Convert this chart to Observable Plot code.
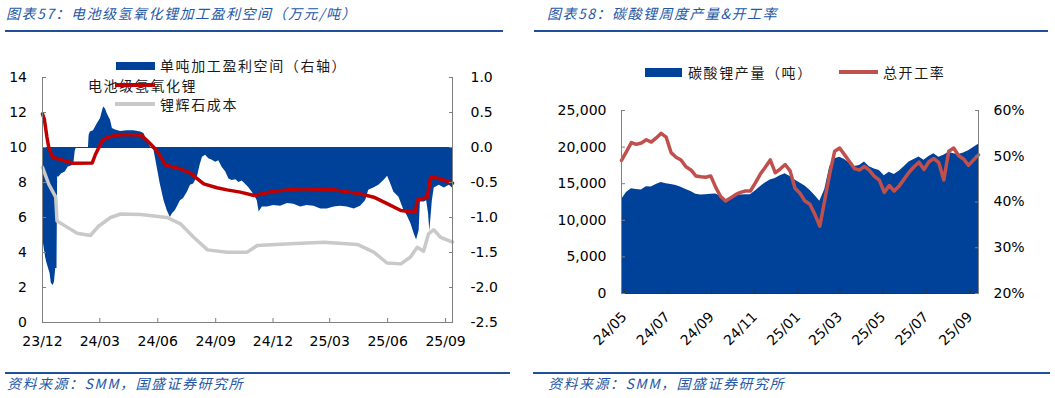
<!DOCTYPE html>
<html><head><meta charset="utf-8">
<script src="https://cdn.jsdelivr.net/npm/d3@7"></script>
<script src="https://cdn.jsdelivr.net/npm/@observablehq/plot@0.6"></script>
<style>
html,body{margin:0;padding:0;background:#fff;}
#root{position:relative;width:1055px;height:398px;overflow:hidden;font-family:"Noto Sans CJK SC","Noto Sans",sans-serif;}
.title,.src{position:absolute;font-style:italic;color:#2457A6;white-space:nowrap;line-height:16px;font-size:14px;letter-spacing:1.5px;}
.rule{position:absolute;background:#1F4E9A;}
.chart{position:absolute;top:40px;}
.chart svg{display:block;}
.leg{position:absolute;font-size:14px;line-height:16px;color:#1a1a1a;letter-spacing:1.6px;white-space:nowrap;}
.sw{position:absolute;}
</style></head><body><div id="root">
<div class="title" style="left:6px;top:5px">图表57：电池级氢氧化锂加工盈利空间（万元/吨）</div>
<div class="rule" style="left:5px;top:30px;width:498px;height:2px"></div>
<div class="title" style="left:547px;top:5px">图表58：碳酸锂周度产量&amp;开工率</div>
<div class="rule" style="left:534px;top:30px;width:514px;height:2px"></div>
<div id="c1" class="chart" style="left:0px"></div>
<div id="c2" class="chart" style="left:530px"></div>
<div class="sw" style="left:116px;top:62px;width:39px;height:8px;background:#00419A"></div>
<div class="leg" style="left:160px;top:57px">单吨加工盈利空间（右轴）</div>
<div class="leg" style="left:88px;top:77px">电池级氢氧化锂</div>
<div class="sw" style="left:115px;top:83px;width:40px;height:4px;background:#C00000"></div>
<div class="sw" style="left:115px;top:102px;width:40px;height:4px;background:#C9C9C9"></div>
<div class="leg" style="left:160px;top:96px">锂辉石成本</div>
<div class="sw" style="left:645px;top:68px;width:37px;height:9px;background:#00419A"></div>
<div class="leg" style="left:688px;top:64px">碳酸锂产量（吨）</div>
<div class="sw" style="left:839px;top:70px;width:39px;height:4px;background:#C0504D"></div>
<div class="leg" style="left:883px;top:64px">总开工率</div>
<div class="rule" style="left:5px;top:372px;width:505px;height:1.5px"></div>
<div class="src" style="left:7px;top:375px">资料来源：SMM，国盛证券研究所</div>
<div class="rule" style="left:533px;top:372px;width:517px;height:1.5px"></div>
<div class="src" style="left:548px;top:375px">资料来源：SMM，国盛证券研究所</div>
</div>
<script>
// ===== 图表57 data =====
const c1TickDates = ["2023-12-01","2024-03-01","2024-06-01","2024-09-01","2024-12-01","2025-03-01","2025-06-01","2025-09-01"];
const leftAxisTicks = [0,2,4,6,8,10,12,14];
const marginAxisTicks = [-2.5,-2.0,-1.5,-1.0,-0.5,0.0,0.5,1.0];

const hydroxideDates = ["2023-12-01","2023-12-04","2023-12-08","2023-12-11","2023-12-17","2023-12-30","2024-01-19","2024-02-18","2024-02-23","2024-03-05","2024-03-13","2024-04-03","2024-05-05","2024-05-15","2024-05-26","2024-06-03","2024-06-13","2024-07-07","2024-07-23","2024-08-03","2024-08-13","2024-09-03","2024-09-19","2024-10-10","2024-11-01","2024-12-02","2025-01-14","2025-03-07","2025-04-19","2025-05-10","2025-06-01","2025-06-22","2025-07-15","2025-07-18","2025-08-03","2025-08-08","2025-08-16","2025-08-24","2025-09-12"];
const hydroxideValues = [11.92,11.6,10.6,10.0,9.45,9.3,9.1,9.12,9.6,10.4,10.59,10.74,10.72,10.4,10.0,9.64,9.0,8.78,8.53,8.21,7.92,7.7,7.58,7.45,7.26,7.5,7.64,7.58,7.35,7.16,6.78,6.4,6.3,7.0,7.16,8.27,8.27,8.2,7.96];

const spodumeneDates = ["2023-12-01","2023-12-11","2023-12-22","2023-12-24","2024-01-09","2024-01-25","2024-02-15","2024-02-28","2024-03-18","2024-04-03","2024-05-05","2024-06-16","2024-07-07","2024-07-28","2024-08-19","2024-09-19","2024-10-21","2024-11-06","2024-12-29","2025-02-20","2025-04-14","2025-05-10","2025-05-31","2025-06-22","2025-07-07","2025-07-18","2025-07-28","2025-08-05","2025-08-13","2025-08-24","2025-09-12"];
const spodumeneValues = [8.87,7.9,7.16,5.8,5.45,5.1,4.97,5.5,6.0,6.2,6.17,6.0,5.64,4.87,4.15,4.02,4.02,4.4,4.5,4.59,4.46,4.02,3.4,3.35,3.73,4.3,4.07,5.07,5.3,4.87,4.59];

const marginDates = ["2023-12-01","2023-12-06","2023-12-08","2023-12-13","2023-12-15","2023-12-18","2023-12-20","2023-12-22","2023-12-24","2023-12-25","2023-12-27","2023-12-31","2024-01-06","2024-01-11","2024-01-17","2024-01-20","2024-01-22","2024-01-24","2024-02-12","2024-02-13","2024-02-15","2024-02-20","2024-02-26","2024-03-02","2024-03-07","2024-03-10","2024-03-13","2024-03-18","2024-03-21","2024-03-26","2024-04-03","2024-04-13","2024-04-24","2024-05-05","2024-05-10","2024-05-15","2024-05-21","2024-05-26","2024-05-31","2024-06-05","2024-06-11","2024-06-16","2024-06-21","2024-06-24","2024-06-29","2024-07-02","2024-07-07","2024-07-12","2024-07-18","2024-07-23","2024-07-28","2024-08-03","2024-08-07","2024-08-11","2024-08-16","2024-08-21","2024-08-26","2024-09-01","2024-09-06","2024-09-11","2024-09-17","2024-09-22","2024-09-27","2024-10-03","2024-10-08","2024-10-13","2024-10-18","2024-10-24","2024-10-29","2024-11-03","2024-11-06","2024-11-09","2024-11-14","2024-11-22","2024-12-02","2024-12-13","2024-12-24","2025-01-03","2025-01-14","2025-01-24","2025-02-04","2025-02-15","2025-02-25","2025-03-08","2025-03-18","2025-03-29","2025-04-09","2025-04-19","2025-04-27","2025-05-02","2025-05-10","2025-05-18","2025-05-26","2025-06-01","2025-06-06","2025-06-11","2025-06-19","2025-06-27","2025-07-02","2025-07-08","2025-07-13","2025-07-17","2025-07-21","2025-07-23","2025-07-29","2025-08-02","2025-08-05","2025-08-07","2025-08-11","2025-08-14","2025-08-22","2025-08-30","2025-09-07","2025-09-12"];
const marginValues = [-1.28,-1.57,-1.65,-1.80,-1.94,-1.97,-1.92,-1.73,-1.73,-0.42,-0.42,-0.38,-0.35,-0.28,-0.26,-0.21,-0.05,0,0,0.17,0.22,0.24,0.34,0.41,0.58,0.55,0.48,0.39,0.27,0.25,0.23,0.24,0.24,0.22,0.20,0.10,0.0,-0.04,-0.28,-0.52,-0.76,-0.90,-1.00,-0.95,-0.90,-0.85,-0.76,-0.73,-0.64,-0.54,-0.52,-0.42,-0.26,-0.14,-0.11,-0.16,-0.18,-0.21,-0.19,-0.28,-0.35,-0.45,-0.47,-0.46,-0.50,-0.48,-0.52,-0.58,-0.64,-0.71,-0.76,-0.92,-0.85,-0.85,-0.83,-0.84,-0.80,-0.81,-0.85,-0.83,-0.84,-0.88,-0.88,-0.85,-0.84,-0.85,-0.88,-0.84,-0.76,-0.61,-0.58,-0.54,-0.47,-0.41,-0.52,-0.64,-0.71,-0.90,-0.97,-1.09,-1.23,-1.32,-1.19,-0.78,-0.78,-0.76,-0.95,-1.20,-0.76,-0.58,-0.54,-0.58,-0.54,-0.58];

// ===== 图表58 data =====
const c2TickDates = ["2024-05-01","2024-07-01","2024-09-01","2024-11-01","2025-01-01","2025-03-01","2025-05-01","2025-07-01","2025-09-01"];
const outputTicks = [0,5000,10000,15000,20000,25000];
const rateTicks = [20,30,40,50,60];
const weekDates = ["2024-05-01","2024-05-08","2024-05-15","2024-05-22","2024-05-29","2024-06-05","2024-06-12","2024-06-19","2024-06-26","2024-07-03","2024-07-10","2024-07-17","2024-07-24","2024-07-31","2024-08-07","2024-08-14","2024-08-21","2024-08-28","2024-09-04","2024-09-11","2024-09-18","2024-09-25","2024-10-02","2024-10-09","2024-10-16","2024-10-23","2024-10-30","2024-11-06","2024-11-13","2024-11-20","2024-11-27","2024-12-04","2024-12-11","2024-12-18","2024-12-25","2025-01-01","2025-01-08","2025-01-15","2025-01-22","2025-01-29","2025-02-05","2025-02-12","2025-02-19","2025-02-26","2025-03-05","2025-03-12","2025-03-19","2025-03-26","2025-04-02","2025-04-09","2025-04-16","2025-04-23","2025-04-30","2025-05-07","2025-05-14","2025-05-21","2025-05-28","2025-06-04","2025-06-11","2025-06-18","2025-06-25","2025-07-02","2025-07-09","2025-07-16","2025-07-23","2025-07-30","2025-08-06","2025-08-13","2025-08-20","2025-08-27","2025-09-03","2025-09-10","2025-09-17"];
const outputValues = [12800,13800,14300,14200,14150, 14600,14550,14900,15150,15000, 14900,14750,14500,14200,13950, 13550,13450,13500,13550,13600, 13300,12600,13000,13400,13450, 13500,13500,14000,14600,15100, 15500,15700,16100,16350,16000, 15500,15100,14700,14100,13400, 12600,14200,17300,18400,18600, 18300,17800,17350,17500,17950, 17300,17000,16800,16100,16570, 16250,16700,17300,17950,18300, 18650,18200,18700,19080,18600, 18900,19300,19100,19000,19200, 19500,19950,20400];
const rateValues = [49.1,51.0,53.0,52.6,52.9, 53.6,53.1,54.0,55.0,54.2, 50.8,49.8,49.2,47.7,47.0, 45.7,45.5,45.4,45.7,43.2, 41.2,40.2,40.9,41.6,42.1, 42.4,42.4,44.2,46.1,47.6, 49.2,46.4,47.2,48.2,46.8, 43.0,41.9,40.2,39.5,37.3, 34.7,40.5,46.2,51.1,51.8, 50.3,48.8,47.3,47.0,47.8, 46.9,45.6,44.8,42.1,43.6, 42.4,43.5,45.0,46.5,47.7, 48.7,47.1,48.8,49.5,48.6, 44.8,51.1,51.8,50.1,49.4, 48.0,49.2,50.3];

// ===== helpers =====
const parse = s => new Date(s + "T00:00:00Z");
const blue = "#00419A";
const axisGray = "#808080";
const fmtMonth = d3.utcFormat("%y/%m");
const baseStyle = {fontFamily: "'DejaVu Sans', Verdana, sans-serif", fontSize: "14px", color: "#000", background: "transparent", overflow: "visible"};

// ===== chart 1 =====
const toLeft = r => (r + 2.5) * 4;   // right-axis (margin) -> left-axis units
const fromLeft = v => v / 4 - 2.5;
const hydro = hydroxideDates.map((d, i) => ({date: parse(d), value: hydroxideValues[i]}));
const spod = spodumeneDates.map((d, i) => ({date: parse(d), value: spodumeneValues[i]}));
const margin = marginDates.map((d, i) => ({date: parse(d), value: marginValues[i]}));
const x1Domain = [margin[0].date, margin[margin.length - 1].date];

const chart1 = Plot.plot({
  width: 510, height: 320,
  marginLeft: 42, marginRight: 58, marginTop: 37, marginBottom: 38,
  style: baseStyle,
  x: {type: "utc", domain: x1Domain},
  y: {domain: [0, 14]},
  marks: [
    Plot.areaY(margin, {x: "date", y1: () => toLeft(0), y2: d => toLeft(d.value), fill: blue}),
    Plot.ruleY([toLeft(0)], {stroke: blue, strokeWidth: 1}),
    Plot.lineY(spod, {x: "date", y: "value", stroke: "#C9C9C9", strokeWidth: 3.5}),
    Plot.lineY(hydro, {x: "date", y: "value", stroke: "#C00000", strokeWidth: 3.5}),
    Plot.ruleX([x1Domain[0]], {stroke: axisGray}),
    Plot.ruleX([x1Domain[1]], {stroke: axisGray}),
    Plot.ruleY([0], {stroke: axisGray}),
    Plot.axisY(leftAxisTicks, {anchor: "left", tickSize: -4, tickPadding: 19.5, stroke: axisGray, fill: "#000", tickFormat: d => String(d), label: null}),
    Plot.axisY(marginAxisTicks.map(toLeft), {anchor: "right", tickSize: -4, tickPadding: 22, stroke: axisGray, fill: "#000", tickFormat: d => fromLeft(d).toFixed(1), label: null}),
    Plot.axisX(c1TickDates.map(parse), {anchor: "bottom", tickSize: -4, tickPadding: 18, stroke: axisGray, fill: "#000", tickFormat: fmtMonth, label: null})
  ]
});
document.getElementById("c1").appendChild(chart1);

// ===== chart 2 =====
const toOut = r => (r - 20) * 625;   // rate (%) -> output-axis units
const weeks = weekDates.map((d, i) => ({date: parse(d), output: outputValues[i], rate: rateValues[i]}));
const x2Domain = [weeks[0].date, weeks[weeks.length - 1].date];

const chart2 = Plot.plot({
  width: 525, height: 320,
  marginLeft: 91, marginRight: 77, marginTop: 70, marginBottom: 67,
  style: baseStyle,
  x: {type: "utc", domain: x2Domain},
  y: {domain: [0, 25000]},
  marks: [
    Plot.areaY(weeks, {x: "date", y: "output", fill: blue}),
    Plot.lineY(weeks, {x: "date", y: d => toOut(d.rate), stroke: "#C0504D", strokeWidth: 3.5}),
    Plot.ruleX([x2Domain[0]], {stroke: axisGray}),
    Plot.ruleX([x2Domain[1]], {stroke: axisGray}),
    Plot.ruleY([0], {stroke: "#333"}),
    Plot.axisY(outputTicks, {anchor: "left", tickSize: -4, tickPadding: 19, stroke: axisGray, fill: "#000", tickFormat: d3.format(","), label: null}),
    Plot.axisY(rateTicks.map(toOut), {anchor: "right", tickSize: -4, tickPadding: 19, stroke: axisGray, fill: "#000", tickFormat: d => Math.round(d / 625 + 20) + "%", label: null}),
    Plot.axisX(c2TickDates.map(parse), {anchor: "bottom", tickSize: -4, tickPadding: 25, dx: 3, tickRotate: -45, stroke: "#333", fill: "#000", tickFormat: fmtMonth, label: null})
  ]
});
document.getElementById("c2").appendChild(chart2);
</script>
</body></html>
